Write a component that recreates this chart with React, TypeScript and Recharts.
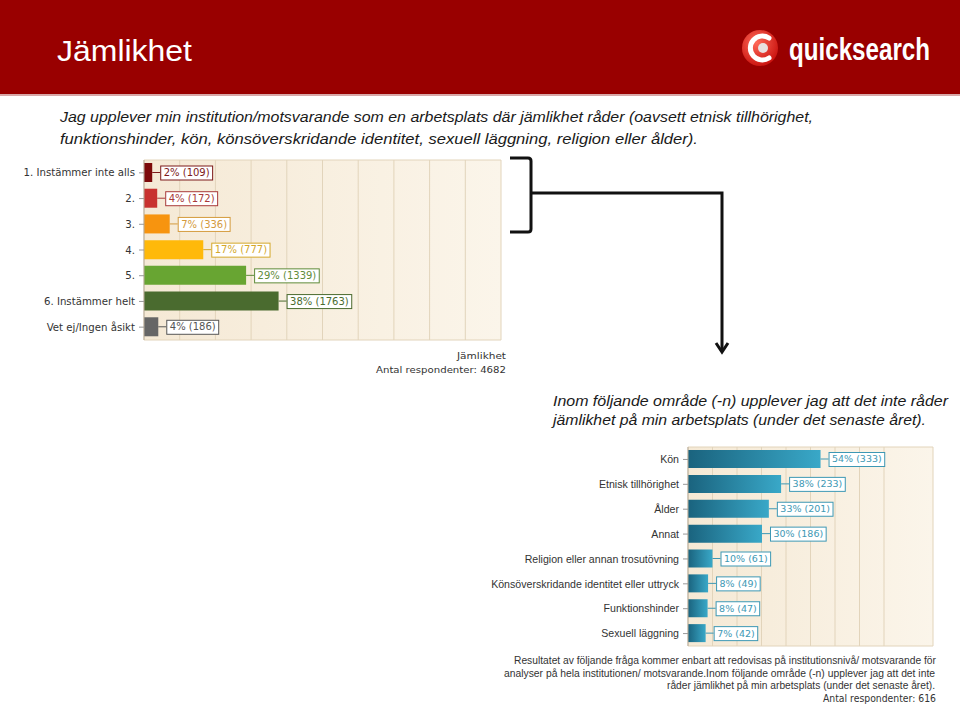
import { BarChart, Bar, XAxis, YAxis, CartesianGrid, Cell, LabelList } from 'recharts';

// chart 1: Jämlikhet
const agreeCategories = [
  '1. Instämmer inte alls',
  '2.',
  '3.',
  '4.',
  '5.',
  '6. Instämmer helt',
  'Vet ej/Ingen åsikt',
];
const agreeShare = [2.3, 3.7, 7.2, 16.6, 28.6, 37.7, 4.0];
const agreePctLabels = [2, 4, 7, 17, 29, 38, 4];
const agreeCounts = [109, 172, 336, 777, 1339, 1763, 186];
const agreeColors = ['#7d0a0a', '#c8322f', '#f7940f', '#ffb90a', '#68a532', '#4a6b2f', '#666666'];
const agreeLabelColors = ['#7d1a1a', '#a83a3a', '#d49a3c', '#d4a82c', '#5f8c3a', '#4a6b2f', '#555555'];

// chart 2: areas
const areaCategories = [
  'Kön',
  'Etnisk tillhörighet',
  'Ålder',
  'Annat',
  'Religion eller annan trosutövning',
  'Könsöverskridande identitet eller uttryck',
  'Funktionshinder',
  'Sexuell läggning',
];
const areaShare = [54.1, 38.0, 33.0, 30.2, 10.0, 8.2, 8.0, 7.2];
const areaPctLabels = [54, 38, 33, 30, 10, 8, 8, 7];
const areaCounts = [333, 233, 201, 186, 61, 49, 47, 42];

const gridTicks = [0, 10, 20, 30, 40, 50, 60, 70, 80, 90, 100];

const agreeData = agreeCategories.map((name, i) => ({ name, value: agreeShare[i] }));
const areaData = areaCategories.map((name, i) => ({ name, value: areaShare[i] }));

const charW: Record<string, number> = { '%': 0.95, ' ': 0.318, '(': 0.39, ')': 0.39 };
const textWidth = (s: string, fs: number) =>
  s.split('').reduce((w, ch) => w + (charW[ch] ?? 0.636) * fs, 0);

function makeLabel(pcts: number[], counts: number[], colors: (i: number) => string, fs: number, boxH: number) {
  return (props: any) => {
    const { x, y, width, height, index } = props;
    const txt = `${pcts[index]}% (${counts[index]})`;
    const endX = Number(x) + Number(width);
    const cy = Number(y) + Number(height) / 2;
    const bx = endX + 8;
    const w = textWidth(txt, fs) + 6;
    const c = colors(index);
    return (
      <g>
        <line x1={endX} y1={cy} x2={bx} y2={cy} stroke={c} strokeWidth={1} />
        <rect x={bx + 0.5} y={cy - boxH / 2 + 0.5} width={w} height={boxH} fill="#ffffff" stroke={c} strokeWidth={1} />
        <text x={bx + 3.5} y={cy + fs * 0.36} fill={c} fontSize={fs} fontFamily="DejaVu Sans">
          {txt}
        </text>
      </g>
    );
  };
}

function makeTick(fs: number, family: string) {
  return (props: any) => {
    const { x, y, payload } = props;
    return (
      <text x={x} y={y} dy={fs * 0.35} textAnchor="end" fill="#333333" fontSize={fs} fontFamily={family}>
        {payload.value}
      </text>
    );
  };
}

const edgeLines = ({ offset }: any) => [offset.top, offset.top + offset.height];

function AgreeChart() {
  return (
    <BarChart
      width={520}
      height={200}
      data={agreeData}
      layout="vertical"
      margin={{ top: 10, right: 19, left: 0, bottom: 10 }}
      barCategoryGap={3}
    >
      <defs>
        <linearGradient id="bg1" x1="0" y1="0" x2="1" y2="0">
          <stop offset="0%" stopColor="#f5e9d5" />
          <stop offset="100%" stopColor="#fbf5ea" />
        </linearGradient>
      </defs>
      <CartesianGrid fill="url(#bg1)" stroke="#e2d4bb" horizontalCoordinatesGenerator={edgeLines} />
      <XAxis type="number" domain={[0, 100]} ticks={gridTicks} hide />
      <YAxis
        type="category"
        dataKey="name"
        width={144}
        tickSize={5}
        tickMargin={4}
        axisLine={{ stroke: '#b8ad9c' }}
        tickLine={{ stroke: '#999999' }}
        tick={makeTick(10.2, 'DejaVu Sans')}
      />
      <Bar dataKey="value" barSize={19} isAnimationActive={false}>
        {agreeData.map((_d, i) => (
          <Cell key={`a-${i}`} fill={agreeColors[i]} />
        ))}
        <LabelList
          dataKey="value"
          content={makeLabel(agreePctLabels, agreeCounts, (i) => agreeLabelColors[i], 10, 14)}
        />
      </Bar>
    </BarChart>
  );
}

function AreaChart() {
  return (
    <BarChart
      width={470}
      height={215}
      data={areaData}
      layout="vertical"
      margin={{ top: 7, right: 17, left: 0, bottom: 9 }}
      barCategoryGap={3}
    >
      <defs>
        <linearGradient id="bg2" x1="0" y1="0" x2="1" y2="0">
          <stop offset="0%" stopColor="#f5e9d5" />
          <stop offset="100%" stopColor="#fbf5ea" />
        </linearGradient>
        <linearGradient id="teal" x1="0" y1="0" x2="1" y2="0">
          <stop offset="0%" stopColor="#1a637e" />
          <stop offset="100%" stopColor="#39a8c8" />
        </linearGradient>
      </defs>
      <CartesianGrid fill="url(#bg2)" stroke="#e2d4bb" horizontalCoordinatesGenerator={edgeLines} />
      <XAxis type="number" domain={[0, 100]} ticks={gridTicks} hide />
      <YAxis
        type="category"
        dataKey="name"
        width={208}
        tickSize={5}
        tickMargin={4}
        axisLine={{ stroke: '#b8ad9c' }}
        tickLine={{ stroke: '#999999' }}
        tick={makeTick(10.6, 'Liberation Sans')}
      />
      <Bar dataKey="value" barSize={18} fill="url(#teal)" isAnimationActive={false}>
        <LabelList
          dataKey="value"
          content={makeLabel(areaPctLabels, areaCounts, () => '#3d98b4', 9.5, 14)}
        />
      </Bar>
    </BarChart>
  );
}

export default function App() {
  return (
    <div
      style={{
        position: 'absolute',
        left: 0,
        top: 0,
        width: 960,
        height: 704,
        background: '#ffffff',
        overflow: 'hidden',
        fontFamily: 'Liberation Sans, Arial, sans-serif',
      }}
    >
      <div style={{ position: 'absolute', left: 0, top: 150 }}>
        <AgreeChart />
      </div>
      <div style={{ position: 'absolute', left: 480, top: 440 }}>
        <AreaChart />
      </div>

      {/* slide decoration: header, captions, bracket and arrow */}
      <svg width={960} height={704} style={{ position: 'absolute', left: 0, top: 0, pointerEvents: 'none' }}>
        <defs>
          <radialGradient id="logoBall" cx="0.4" cy="0.35" r="0.7">
            <stop offset="0%" stopColor="#ff6a5a" />
            <stop offset="100%" stopColor="#c8100c" />
          </radialGradient>
        </defs>
        <rect x={0} y={0} width={960} height={94} fill="#990000" />
        <rect x={0} y={94} width={960} height={2} fill="#d8a8a8" />
        <text x={57} y={61} fill="#ffffff" fontSize={29} fontFamily="Liberation Sans" textLength={135} lengthAdjust="spacingAndGlyphs">
          Jämlikhet
        </text>
        <circle cx={760} cy={48} r={18} fill="url(#logoBall)" />
        <path d="M769,38 A12,12 0 1 0 769,58" fill="none" stroke="#ffffff" strokeWidth={5} strokeLinecap="round" />
        <circle cx={763} cy={48} r={5} fill="#e8e0e0" />
        <text
          transform="translate(789,60) scale(0.78,1)"
          x={0}
          y={0}
          fill="#ffffff"
          fontSize={31}
          fontWeight="bold"
          fontFamily="Liberation Sans"
        >
          quicksearch
        </text>

        <g fontFamily="Liberation Sans" fontStyle="italic" fontSize={15.5} fill="#1a1a1a">
          <text x={60} y={122} textLength={753} lengthAdjust="spacingAndGlyphs">
            Jag upplever min institution/motsvarande som en arbetsplats där jämlikhet råder (oavsett etnisk tillhörighet,
          </text>
          <text x={60} y={144} textLength={638} lengthAdjust="spacingAndGlyphs">
            funktionshinder, kön, könsöverskridande identitet, sexuell läggning, religion eller ålder).
          </text>
          <text x={553} y={406} textLength={395} lengthAdjust="spacingAndGlyphs">
            Inom följande område (-n) upplever jag att det inte råder
          </text>
          <text x={553} y={425} textLength={373} lengthAdjust="spacingAndGlyphs">
            jämlikhet på min arbetsplats (under det senaste året).
          </text>
        </g>

        <g fontFamily="DejaVu Sans" fontSize={9.5} fill="#333333" textAnchor="end">
          <text x={506} y={359} textLength={49} lengthAdjust="spacingAndGlyphs">Jämlikhet</text>
          <text x={506} y={373} textLength={130} lengthAdjust="spacingAndGlyphs">Antal respondenter: 4682</text>
        </g>
        <g fontFamily="Liberation Sans" fontSize={10} fill="#333333" textAnchor="end">
          <text x={936} y={664} textLength={422} lengthAdjust="spacingAndGlyphs">
            Resultatet av följande fråga kommer enbart att redovisas på institutionsnivå/ motsvarande för
          </text>
          <text x={935} y={677} textLength={431} lengthAdjust="spacingAndGlyphs">
            analyser på hela institutionen/ motsvarande.Inom följande område (-n) upplever jag att det inte
          </text>
          <text x={935} y={689} textLength={268} lengthAdjust="spacingAndGlyphs">
            råder jämlikhet på min arbetsplats (under det senaste året).
          </text>
          <text x={936} y={702} textLength={113} lengthAdjust="spacingAndGlyphs" fontFamily="DejaVu Sans">
            Antal respondenter: 616
          </text>
        </g>

        <path
          d="M510,158 L528,158 Q531,158 531,161 L531,229 Q531,232 528,232 L510,232"
          fill="none"
          stroke="#111111"
          strokeWidth={3}
        />
        <path d="M531,193 L722,193 L722,350" fill="none" stroke="#111111" strokeWidth={3} />
        <path d="M716,343 L722,352 L728,343" fill="none" stroke="#111111" strokeWidth={3} strokeLinejoin="miter" />
      </svg>
    </div>
  );
}
